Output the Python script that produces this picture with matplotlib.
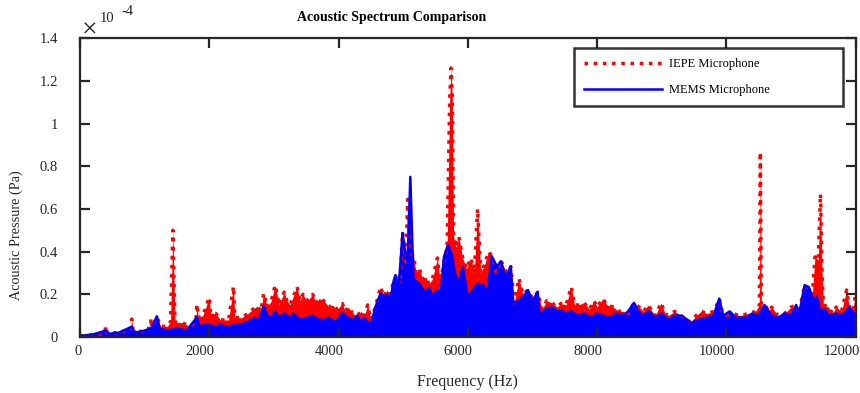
import matplotlib
matplotlib.use("Agg")
import matplotlib.pyplot as plt
import matplotlib.transforms as mtransforms

plt.rcParams['font.family'] = ['Liberation Serif', 'DejaVu Serif']

# pressure values are in units of 1e-4 Pa
iepe_freq = [0, 200, 380, 400, 420, 600, 700, 780, 800, 820,
             950, 1000, 1090, 1100, 1110, 1190, 1250, 1350, 1400, 1437,
             1470, 1580, 1700, 1790, 1810, 1830, 1900, 2000, 2020, 2100,
             2170, 2300, 2375, 2395, 2500, 2600, 2660, 2740, 2800, 2840,
             2900, 2960, 3020, 3080, 3160, 3200, 3250, 3300, 3360, 3400,
             3450, 3500, 3550, 3600, 3650, 3700, 3770, 3850, 3900, 3980,
             4060, 4100, 4150, 4220, 4290, 4350, 4400, 4450, 4500, 4570,
             4650, 4700, 4750, 4800, 4850, 4900, 4950, 4990, 5040, 5070,
             5100, 5160, 5200, 5250, 5300, 5350, 5400, 5450, 5530, 5560,
             5600, 5680, 5720, 5740, 5760, 5780, 5820, 5860, 5920, 5980,
             6045, 6100, 6150, 6200, 6260, 6320, 6370, 6440, 6510, 6600,
             6665, 6720, 6790, 6850, 6930, 7000, 7080, 7150, 7220, 7300,
             7380, 7440, 7520, 7600, 7650, 7700, 7800, 7880, 7950, 8000,
             8090, 8150, 8250, 8330, 8400, 8480, 8570, 8650, 8720, 8790,
             8850, 8900, 8990, 9050, 9100, 9200, 9300, 9380, 9450, 9530,
             9610, 9700, 9810, 9890, 9940, 10000, 10100, 10200, 10350, 10450,
             10510, 10525, 10540, 10600, 10650, 10700, 10800, 10900, 11000, 11080,
             11120, 11210, 11280, 11330, 11370, 11420, 11455, 11480, 11500, 11580,
             11640, 11700, 11780, 11860, 11900, 11950, 12000]
iepe_amp = [0.005, 0.01, 0.015, 0.053, 0.02, 0.02, 0.03, 0.03, 0.084, 0.035,
            0.025, 0.04, 0.04, 0.089, 0.045, 0.093, 0.05, 0.05, 0.07, 0.50,
            0.07, 0.067, 0.05, 0.07, 0.154, 0.09, 0.10, 0.186, 0.11, 0.11,
            0.08, 0.08, 0.237, 0.09, 0.09, 0.11, 0.126, 0.145, 0.12, 0.205,
            0.14, 0.17, 0.243, 0.15, 0.21, 0.17, 0.15, 0.19, 0.235, 0.17,
            0.20, 0.17, 0.18, 0.20, 0.16, 0.18, 0.17, 0.14, 0.15, 0.13,
            0.156, 0.12, 0.14, 0.11, 0.10, 0.12, 0.10, 0.15, 0.08, 0.14,
            0.235, 0.19, 0.22, 0.20, 0.26, 0.29, 0.25, 0.49, 0.35, 0.645,
            0.40, 0.38, 0.30, 0.32, 0.27, 0.28, 0.25, 0.27, 0.37, 0.28,
            0.30, 0.43, 1.12, 1.26, 1.12, 0.47, 0.42, 0.47, 0.37, 0.32,
            0.37, 0.30, 0.60, 0.30, 0.34, 0.40, 0.38, 0.30, 0.36, 0.30,
            0.33, 0.16, 0.275, 0.20, 0.22, 0.18, 0.21, 0.13, 0.17, 0.16,
            0.14, 0.157, 0.15, 0.235, 0.15, 0.15, 0.16, 0.13, 0.17, 0.14,
            0.18, 0.15, 0.14, 0.12, 0.12, 0.11, 0.16, 0.14, 0.12, 0.15,
            0.12, 0.10, 0.16, 0.11, 0.10, 0.12, 0.10, 0.08, 0.07, 0.10,
            0.12, 0.11, 0.12, 0.18, 0.11, 0.10, 0.11, 0.10, 0.11, 0.12,
            0.15, 0.866, 0.15, 0.15, 0.12, 0.14, 0.10, 0.11, 0.14, 0.15,
            0.11, 0.243, 0.23, 0.20, 0.375, 0.36, 0.67, 0.30, 0.15, 0.14,
            0.11, 0.14, 0.12, 0.22, 0.14, 0.12, 0.20]

mems_freq = [0, 200, 400, 450, 600, 800, 850, 1000, 1100, 1190,
             1230, 1350, 1500, 1650, 1810, 1850, 2000, 2080, 2170, 2250,
             2375, 2500, 2600, 2700, 2760, 2840, 2900, 2960, 3020, 3080,
             3160, 3250, 3300, 3360, 3420, 3500, 3600, 3700, 3770, 3850,
             3900, 3960, 4060, 4150, 4220, 4290, 4350, 4400, 4450, 4500,
             4570, 4650, 4700, 4750, 4800, 4850, 4880, 4920, 4990, 5030,
             5070, 5110, 5140, 5160, 5250, 5330, 5400, 5450, 5530, 5580,
             5630, 5690, 5750, 5800, 5860, 5920, 6000, 6080, 6150, 6250,
             6300, 6370, 6450, 6510, 6580, 6665, 6700, 6790, 6860, 6930,
             7000, 7080, 7110, 7200, 7300, 7380, 7440, 7520, 7600, 7700,
             7800, 7900, 8000, 8090, 8200, 8300, 8400, 8480, 8570, 8640,
             8700, 8800, 8900, 9000, 9100, 9200, 9300, 9400, 9450, 9550,
             9700, 9800, 9890, 9950, 10050, 10150, 10300, 10400, 10500, 10590,
             10700, 10800, 10900, 11000, 11080, 11120, 11210, 11280, 11350, 11400,
             11450, 11520, 11580, 11700, 11800, 11900, 11950, 12000]
mems_amp = [0.005, 0.012, 0.03, 0.015, 0.02, 0.048, 0.02, 0.03, 0.04, 0.097,
            0.04, 0.03, 0.04, 0.03, 0.093, 0.05, 0.06, 0.045, 0.06, 0.045,
            0.055, 0.06, 0.07, 0.09, 0.07, 0.145, 0.10, 0.09, 0.12, 0.09,
            0.11, 0.09, 0.11, 0.093, 0.08, 0.09, 0.10, 0.08, 0.08, 0.09,
            0.08, 0.07, 0.113, 0.09, 0.08, 0.10, 0.07, 0.09, 0.07, 0.06,
            0.14, 0.205, 0.19, 0.20, 0.17, 0.26, 0.29, 0.19, 0.487, 0.40,
            0.35, 0.75, 0.45, 0.27, 0.25, 0.21, 0.23, 0.19, 0.22, 0.20,
            0.375, 0.43, 0.39, 0.30, 0.25, 0.33, 0.19, 0.22, 0.25, 0.24,
            0.20, 0.378, 0.33, 0.355, 0.28, 0.33, 0.16, 0.17, 0.19, 0.22,
            0.17, 0.21, 0.10, 0.13, 0.14, 0.12, 0.125, 0.11, 0.12, 0.10,
            0.11, 0.09, 0.11, 0.10, 0.09, 0.11, 0.10, 0.12, 0.16, 0.12,
            0.10, 0.12, 0.09, 0.11, 0.08, 0.10, 0.10, 0.08, 0.065, 0.08,
            0.09, 0.10, 0.18, 0.10, 0.12, 0.09, 0.09, 0.11, 0.10, 0.15,
            0.10, 0.09, 0.11, 0.10, 0.15, 0.10, 0.243, 0.23, 0.17, 0.19,
            0.12, 0.13, 0.10, 0.11, 0.10, 0.14, 0.12, 0.09]

xticks = [0, 2000, 4000, 6000, 8000, 10000, 12000]
yticks = [0, 0.2, 0.4, 0.6, 0.8, 1.0, 1.2, 1.4]

ink = '#262626'

fig = plt.figure(figsize=(8.6, 3.93), dpi=100)
ax = fig.add_axes([0.093, 0.1425, 0.902, 0.7605])

ax.fill_between(iepe_freq, 0, iepe_amp, color='red', lw=0)
ax.plot(iepe_freq, iepe_amp, color='red', ls=':', lw=2.5, label='IEPE Microphone')
ax.fill_between(mems_freq, 0, mems_amp, color='blue', lw=0)
ax.plot(mems_freq, mems_amp, color='blue', lw=1.8, label='MEMS Microphone')

ax.set_xlim(0, 12000)
ax.set_ylim(0, 1.4)
ax.set_xticks(xticks)
ax.set_yticks(yticks)
ax.set_yticklabels(['%g' % t for t in yticks])

ax.tick_params(direction='in', length=7, width=1.6, color=ink, labelcolor=ink,
               labelsize=10.5, top=True, right=True)
ax.tick_params(axis='y', pad=16)
ax.tick_params(axis='x', pad=6)
for s in ax.spines.values():
    s.set_linewidth(1.6)
    s.set_color(ink)

# x labels sit a little left of their ticks in the original
shifts = [-2, -9, -9, -10, -9, -10, -14]
for lab, dx in zip(ax.get_xticklabels(), shifts):
    off = mtransforms.ScaledTranslation(dx / 100, 0, fig.dpi_scale_trans)
    lab.set_transform(lab.get_transform() + off)

ax.set_title('Acoustic Spectrum Comparison', fontsize=10, fontweight='bold',
             x=0.402, pad=12)
ax.set_xlabel('Frequency (Hz)', fontsize=11.5, color=ink, labelpad=11)
ax.set_ylabel('Acoustic Pressure (Pa)', fontsize=10.3, color=ink)
ax.yaxis.set_label_coords(-0.074, 0.34)

# exponent label like the MATLAB one
fig.text(0.1047, 0.922, '\u00d7', fontsize=20, color=ink, ha='center', va='center')
fig.text(0.1244, 0.952, '10', fontsize=10.5, color=ink, ha='center', va='center')
fig.text(0.1477, 0.972, '-4', fontsize=10.5, color=ink, ha='center', va='center')

leg = ax.legend(loc='upper right', bbox_to_anchor=(0.637, 0.766, 0.3465, 0.201),
                mode='expand', fontsize=9, handlelength=6.2, handletextpad=0.6,
                borderpad=0.8, labelspacing=1.15, borderaxespad=0,
                fancybox=False, edgecolor='black')
leg.get_frame().set_linewidth(1.8)

fig.savefig('out.png', dpi=100)
